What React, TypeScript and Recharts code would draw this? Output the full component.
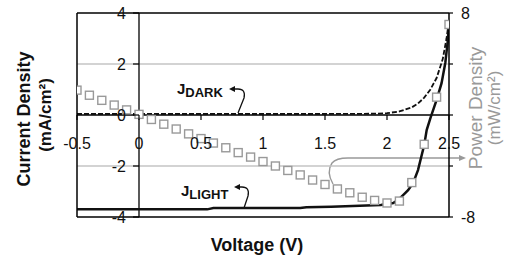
import React from "react";
import { ComposedChart, Line, XAxis, YAxis, ReferenceLine, Customized } from "recharts";

const voltageTicks = [-0.5, 0, 0.5, 1, 1.5, 2, 2.5];
const currentTicks = [-4, -2, 0, 2, 4];
const powerTicks = [-8, -4, 0, 4, 8];

// J_DARK (mA/cm2)
const darkV = [-0.5, 0, 0.5, 1, 1.5, 1.9, 2.0, 2.1, 2.2, 2.25, 2.3, 2.35, 2.4, 2.45, 2.48, 2.5];
const darkJ = [0.04, 0.04, 0.04, 0.04, 0.04, 0.05, 0.07, 0.14, 0.3, 0.45, 0.68, 1.0, 1.45, 2.2, 3.0, 3.7];

// J_LIGHT (mA/cm2)
const lightV = [-0.5, 0.55, 0.6, 1.3, 1.35, 1.55, 1.95, 2.05, 2.09, 2.13, 2.17, 2.21, 2.25, 2.3, 2.32, 2.35, 2.4, 2.44, 2.47, 2.49, 2.5];
const lightJ = [-3.7, -3.7, -3.65, -3.65, -3.62, -3.6, -3.53, -3.45, -3.33, -3.14, -2.95, -2.67, -2.16, -1.18, -0.59, -0.12, 0.59, 1.25, 2.04, 2.9, 3.6];

// power density (mW/cm2), right axis
const powerV = [-0.5, -0.4, -0.3, -0.2, -0.1, 0, 0.1, 0.2, 0.3, 0.4, 0.5, 0.6, 0.7, 0.8, 0.9, 1.0, 1.1, 1.2, 1.3, 1.4, 1.5, 1.6, 1.7, 1.8, 1.9, 2.0, 2.1, 2.2, 2.3, 2.4, 2.5];
const powerP = [1.95, 1.55, 1.15, 0.78, 0.4, 0.05, -0.35, -0.72, -1.1, -1.48, -1.85, -2.2, -2.57, -2.95, -3.3, -3.65, -4.0, -4.35, -4.7, -5.1, -5.45, -5.8, -6.1, -6.45, -6.7, -6.9, -6.75, -5.3, -2.3, 1.4, 7.1];

const darkData = darkV.map((v, i) => ({ v, j: darkJ[i] }));
const lightData = lightV.map((v, i) => ({ v, j: lightJ[i] }));
const powerData = powerV.map((v, i) => ({ v, p: powerP[i] }));

const FONT = "'Liberation Sans', Arial, sans-serif";

// x labels hang under the zero line, not under the frame
const XTick = ({ x, y, payload }: any) => {
  const zeroY = y - 102;
  return (
    <g>
      <line x1={x} x2={x} y1={zeroY} y2={zeroY + 5} stroke="#000" strokeWidth={1.2} />
      <text x={x} y={zeroY + 34} textAnchor="middle" fontSize={16} fontFamily={FONT} fill="#111">
        {payload.value}
      </text>
    </g>
  );
};

// y labels sit beside the V=0 line
const LeftTick = ({ x, y, payload }: any) => {
  const zeroX = x + 62;
  return (
    <g>
      <line x1={zeroX - 6} x2={zeroX} y1={y} y2={y} stroke="#000" strokeWidth={1.2} />
      <text x={zeroX - 13} y={y + 6} textAnchor="end" fontSize={16} fontFamily={FONT} fill="#111">
        {payload.value}
      </text>
    </g>
  );
};

const RightTick = ({ x, y, payload }: any) =>
  Math.abs(payload.value) === 8 ? (
    <text x={x} y={y + 6} textAnchor="start" fontSize={16} fontFamily={FONT} fill="#111">
      {payload.value}
    </text>
  ) : (
    <g />
  );

const Square = ({ cx, cy }: any) =>
  cx == null ? null : (
    <rect x={cx - 4} y={cy - 4} width={8} height={8} fill="#fff" stroke="#999" strokeWidth={1.4} />
  );

const Annotations = () => (
  <g fontFamily={FONT}>
    <text transform="translate(30,119) rotate(-90)" textAnchor="middle" fontSize={18} fontWeight="bold" fill="#111">
      Current Density
    </text>
    <text transform="translate(51,115) rotate(-90)" textAnchor="middle" fontSize={17} fontWeight="bold" fill="#111">
      (mA/cm²)
    </text>
    <text transform="translate(482,108) rotate(-90)" textAnchor="middle" fontSize={19} fill="#999">
      Power Density
    </text>
    <text transform="translate(500,108) rotate(-90)" textAnchor="middle" fontSize={17} fill="#999">
      (mW/cm²)
    </text>
    <text x={257} y={251} textAnchor="middle" fontSize={18} fontWeight="bold" fill="#111">
      Voltage (V)
    </text>

    <text x={177} y={94} fontSize={15} fontWeight="bold" fill="#111">
      J<tspan fontSize={13} dy={3}>DARK</tspan>
    </text>
    <path d="M238,113 L244,98 Q246,89 238,89 L234,89" fill="none" stroke="#111" strokeWidth={1.3} />
    <path d="M229,89 L235,86 L235,92 Z" fill="#111" />

    <text x={181} y={196} fontSize={15} fontWeight="bold" fill="#111">
      J<tspan fontSize={13} dy={3}>LIGHT</tspan>
    </text>
    <path d="M244,208 L248,196 Q250,187 242,187 L239,187" fill="none" stroke="#111" strokeWidth={1.3} />
    <path d="M234,187 L240,184 L240,190 Z" fill="#111" />

    <path d="M333,184 Q326,172 332,163 Q336,158 348,158 L459,158" fill="none" stroke="#999" strokeWidth={1.4} />
    <path d="M466,158 L459,155 L459,161 Z" fill="#999" />
  </g>
);

export default function App() {
  return (
    <div style={{ position: "absolute", left: 0, top: 0, background: "#fff" }}>
      <ComposedChart width={505} height={257} margin={{ top: 13, right: 0, bottom: 0, left: 0 }}>
        <XAxis
          dataKey="v"
          type="number"
          domain={[-0.5, 2.5]}
          ticks={voltageTicks}
          allowDataOverflow
          height={40}
          tickSize={0}
          tickMargin={0}
          tickLine={false}
          axisLine={{ stroke: "#000", strokeWidth: 1.5 }}
          tick={XTick}
        />
        <YAxis
          yAxisId="left"
          type="number"
          domain={[-4, 4]}
          ticks={currentTicks}
          allowDataOverflow
          width={77}
          tickSize={0}
          tickMargin={0}
          tickLine={false}
          axisLine={{ stroke: "#000", strokeWidth: 1.5 }}
          tick={LeftTick}
        />
        <YAxis
          yAxisId="right"
          orientation="right"
          type="number"
          domain={[-8, 8]}
          ticks={powerTicks}
          allowDataOverflow
          width={56}
          tickSize={4}
          tickMargin={8}
          tickLine={{ stroke: "#000", strokeWidth: 1.2 }}
          axisLine={{ stroke: "#000", strokeWidth: 1.5 }}
          tick={RightTick}
        />
        <ReferenceLine yAxisId="left" y={2} stroke="#c4c4c4" strokeWidth={1.3} />
        <ReferenceLine yAxisId="left" y={-2} stroke="#c4c4c4" strokeWidth={1.3} />
        <ReferenceLine yAxisId="left" y={4} stroke="#000" strokeWidth={1.5} />
        <ReferenceLine yAxisId="left" y={0} stroke="#000" strokeWidth={1.3} />
        <ReferenceLine yAxisId="left" x={0} stroke="#000" strokeWidth={1.3} />
        <Line
          yAxisId="left"
          data={darkData}
          dataKey="j"
          type="linear"
          stroke="#111"
          strokeWidth={1.8}
          strokeDasharray="5 2"
          dot={false}
          isAnimationActive={false}
        />
        <Line
          yAxisId="left"
          data={lightData}
          dataKey="j"
          type="linear"
          stroke="#111"
          strokeWidth={2.5}
          dot={false}
          isAnimationActive={false}
        />
        <Line
          yAxisId="right"
          data={powerData}
          dataKey="p"
          type="linear"
          stroke="none"
          dot={Square}
          isAnimationActive={false}
        />
        <Customized component={Annotations} />
      </ComposedChart>
    </div>
  );
}
